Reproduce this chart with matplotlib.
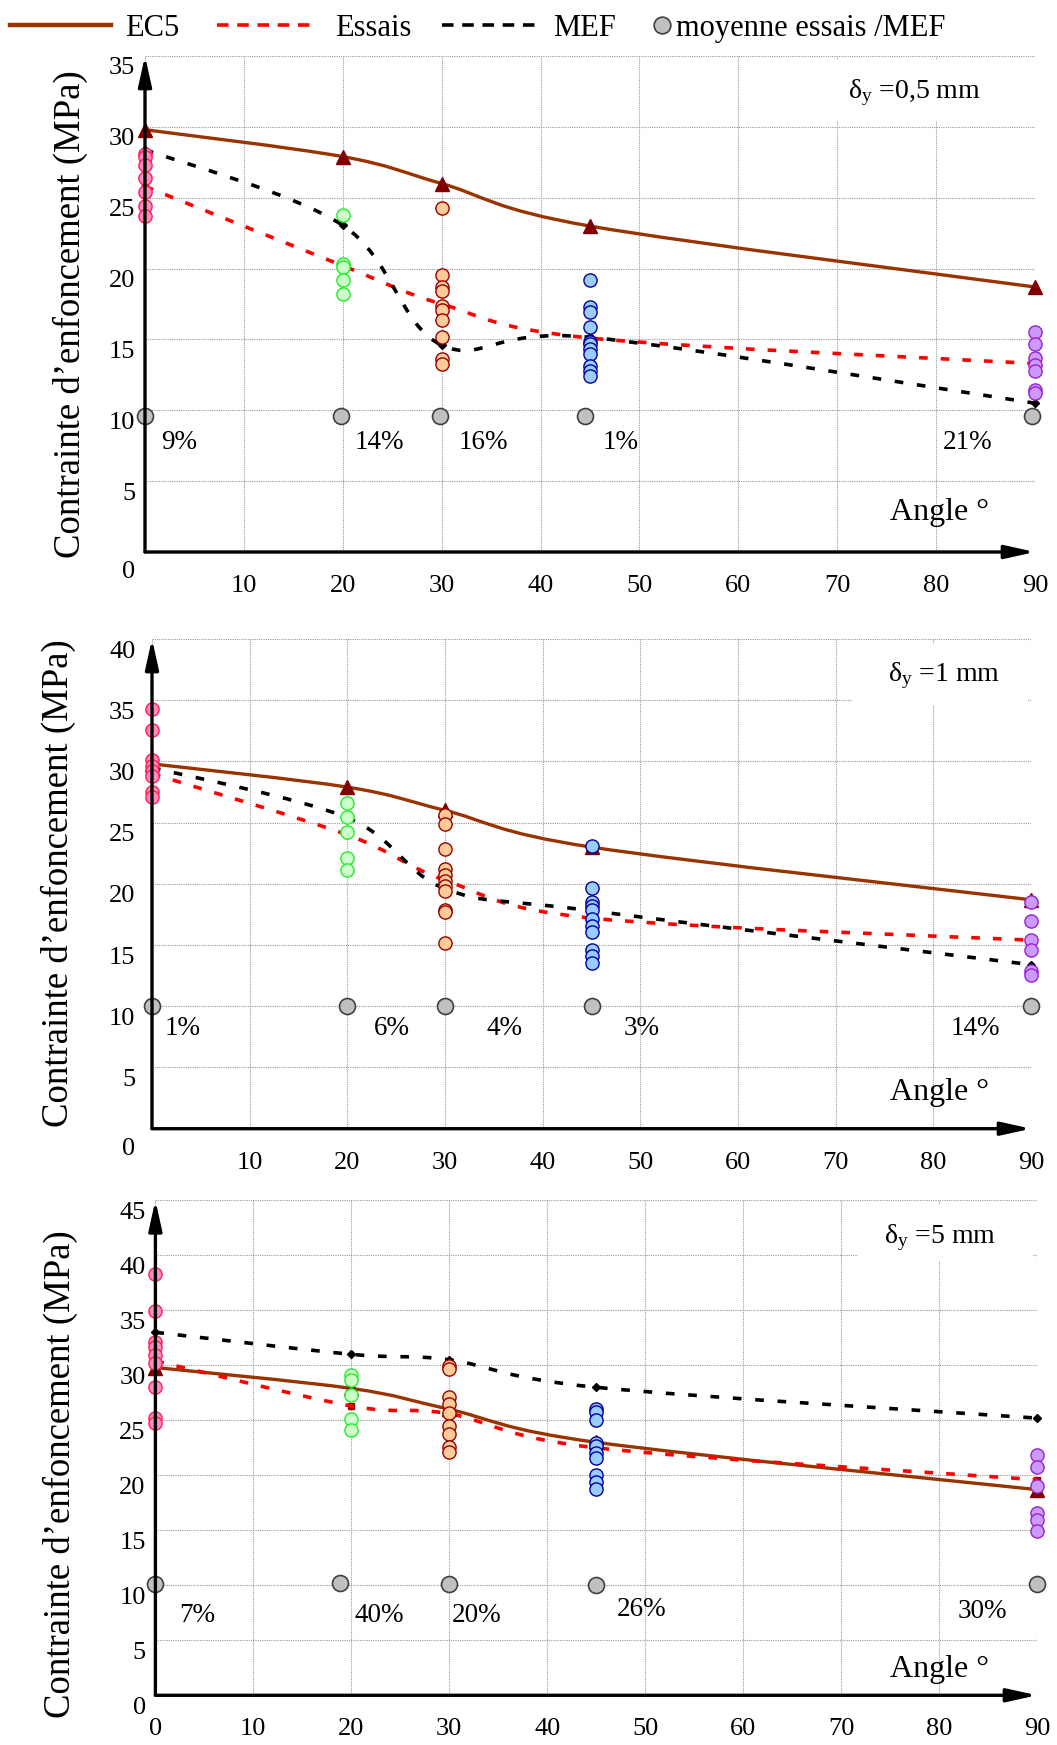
import numpy as np
import matplotlib
matplotlib.use('Agg')
import matplotlib.pyplot as plt
import matplotlib.transforms as mtransforms
from matplotlib.path import Path
from matplotlib.patches import PathPatch, Rectangle
from matplotlib.lines import Line2D

plt.rcParams['font.family'] = ['Liberation Serif', 'DejaVu Serif']
plt.rcParams['mathtext.fontset'] = 'custom'
plt.rcParams['mathtext.rm'] = 'Liberation Serif'
plt.rcParams['mathtext.it'] = 'Liberation Serif:italic'

# ---- data ----
angles = [0, 20, 30, 45, 90]
ec5 = [29.8, 27.9, 26.0, 23.0, 18.7]

essais_05 = [25.8, 20.2, 17.5, 15.1, 13.3]
mef_05 = [28.4, 23.05, 14.6, 15.15, 10.5]
tests_05 = [[28.1, 27.85, 27.3, 26.4, 25.4, 24.45, 23.7],
            [23.8, 20.35, 20.1, 19.2, 18.2],
            [24.25, 19.55, 18.7, 18.45, 17.35, 17.05, 16.4, 15.15, 13.6, 13.3],
            [19.2, 17.3, 16.95, 15.9, 14.8, 14.65, 14.3, 13.95, 13.1, 12.8, 12.45],
            [15.55, 14.65, 13.7, 13.2, 12.8, 11.45, 11.2]]
moy_x_05 = [0, 19.8, 29.8, 44.5, 89.7]
moy_y_05 = [9.6, 9.6, 9.6, 9.6, 9.6]
pct_05 = ['9%', '14%', '16%', '1%', '21%']

essais_1 = [29.0, 24.0, 20.3, 17.2, 15.4]
mef_1 = [29.5, 25.4, 19.6, 17.8, 13.4]
tests_1 = [[34.3, 32.6, 30.1, 29.6, 29.2, 28.8, 27.5, 27.1],
           [26.6, 25.45, 24.2, 22.1, 21.15],
           [25.6, 24.9, 22.85, 21.2, 20.7, 20.2, 19.8, 19.4, 17.9, 17.7, 15.2],
           [23.1, 19.7, 18.55, 18.15, 17.9, 17.1, 16.55, 16.05, 14.6, 14.1, 13.55],
           [18.55, 17.0, 15.4, 14.6, 12.9, 12.55]]
moy_x_1 = [0, 20, 30, 45, 90]
moy_y_1 = [10, 10, 10, 10, 10]
pct_1 = ['1%', '6%', '4%', '3%', '14%']

essais_5 = [30.4, 26.3, 25.6, 22.5, 19.6]
mef_5 = [33.0, 31.0, 30.5, 28.0, 25.2]
tests_5 = [[38.3, 34.95, 32.1, 31.7, 30.9, 30.2, 28.0, 25.2, 24.8],
           [29.1, 28.7, 27.3, 25.1, 24.1],
           [29.95, 29.65, 27.1, 26.5, 25.65, 24.5, 23.8, 22.6, 22.15],
           [26.0, 25.8, 25.0, 22.9, 22.65, 22.0, 21.55, 20.0, 19.4, 18.75],
           [21.85, 20.75, 19.0, 16.6, 15.95, 14.9]]
moy_x_5 = [0, 18.8, 30, 45, 90]
moy_y_5 = [10.1, 10.25, 10.1, 10.05, 10.1]
pct_5 = ['7%', '40%', '20%', '26%', '30%']

deltas = ['0,5', '1', '5']
ymaxs = [35, 40, 45]

fills = ['#ff8cc6', '#ccffcc', '#ffcc99', '#99ccff', '#cc99ff']
edges = ['#ff2050', '#22ee22', '#990000', '#000099', '#9922cc']

W, H = 1057, 1745


def smooth(xs, ys):
    # smoothed line like the spreadsheet "smooth line" option (cubic bezier)
    pts = np.column_stack([xs, ys]).astype(float)
    n = len(pts)
    verts = [pts[0]]
    codes = [Path.MOVETO]
    for i in range(n - 1):
        p0 = pts[max(i - 1, 0)]
        p1 = pts[i]
        p2 = pts[i + 1]
        p3 = pts[min(i + 2, n - 1)]
        verts += [p1 + (p2 - p0) / 6, p2 - (p3 - p1) / 6, p2]
        codes += [Path.CURVE4] * 3
    return Path(verts, codes)


fig = plt.figure(figsize=(W / 100, H / 100), dpi=100)

# pixel layout of each panel: (x0, y0, x1, y1)
boxes = [(145, 56, 1035, 552), (152, 639, 1031, 1128.7), (155.4, 1200.3, 1037, 1695.3)]
ylab_pos = [(70, 314), (58, 883), (60, 1474)]
angle_base = [520, 1100, 1677]
delta_pos = [(914, 93), (944, 676), (940, 1238)]
white_box = [(830, 60, 1032, 121), (852, 644, 1028, 705), (858, 1205, 1033, 1261)]
pct_x = [[1.6, 21.2, 31.7, 46.3, 80.7], [1.3, 22.7, 34.2, 48.3, 81.8], [2.4, 20.3, 30.3, 47.1, 81.9]]
pct_y = [[7.75] * 5, [8.2] * 5, [7.3, 7.3, 7.3, 7.8, 7.6]]
ypads = [7, 12, 7]

essais_all = [essais_05, essais_1, essais_5]
mef_all = [mef_05, mef_1, mef_5]
tests_all = [tests_05, tests_1, tests_5]
moy_x_all = [moy_x_05, moy_x_1, moy_x_5]
moy_y_all = [moy_y_05, moy_y_1, moy_y_5]
pct_all = [pct_05, pct_1, pct_5]

for k in range(3):
    x0, y0, x1, y1 = boxes[k]
    ax = fig.add_axes([x0 / W, 1 - y1 / H, (x1 - x0) / W, (y1 - y0) / H])
    ax.set_xlim(0, 90)
    ax.set_ylim(0, ymaxs[k])
    for s in ax.spines.values():
        s.set_visible(False)
    ax.set_axisbelow(True)
    ax.grid(True, color='#9a9a9a', linestyle=(0, (1, 1)), linewidth=0.8)

    xt = list(range(0, 91, 10))
    ax.set_xticks(xt)
    ax.set_xticklabels(['' if (v == 0 and k < 2) else str(v) for v in xt])
    yt = list(range(0, ymaxs[k] + 1, 5))
    ax.set_yticks(yt)
    ax.set_yticklabels([str(v) for v in yt])
    ax.tick_params(axis='both', length=0, labelsize=19)
    ax.tick_params(axis='x', pad=16.5)
    ax.tick_params(axis='y', pad=ypads[k])
    for lab in ax.get_yticklabels():
        dy = 0.10
        if lab.get_text() == '0' and k < 2:
            dy = 0.18
        lab.set_transform(lab.get_transform() + mtransforms.ScaledTranslation(0, -dy, fig.dpi_scale_trans))

    # axes with arrows
    arr = dict(arrowstyle='-|>,head_length=0.9,head_width=0.2', color='black', lw=2.4,
               shrinkA=0, shrinkB=0, mutation_scale=20)
    ax.annotate('', xy=(0, 1), xytext=(0, 0), xycoords='axes fraction', arrowprops=arr,
                annotation_clip=False, zorder=6)
    ax.annotate('', xy=(1, 0), xytext=(0, 0), xycoords='axes fraction', arrowprops=arr,
                annotation_clip=False, zorder=6)

    # white box behind the delta label
    bx0, by0, bx1, by1 = white_box[k]
    ax.add_patch(Rectangle((bx0 / W, 1 - by1 / H), (bx1 - bx0) / W, (by1 - by0) / H,
                           transform=fig.transFigure, facecolor='white', edgecolor='none', zorder=1))
    ax.text(delta_pos[k][0] / W, 1 - delta_pos[k][1] / H,
            r'$\mathrm{\delta_y}$ =' + deltas[k] + ' mm', transform=fig.transFigure,
            fontsize=20, ha='center', va='center', zorder=5)

    # lines
    ax.add_patch(PathPatch(smooth(angles, ec5), fill=False, edgecolor='#993300', lw=2.4,
                           zorder=2, clip_on=False))
    ax.plot(angles, ec5, linestyle='none', marker='^', markersize=10, color='#800000',
            zorder=2.5, clip_on=False)
    ax.add_patch(PathPatch(smooth(angles, essais_all[k]), fill=False, edgecolor='#ff0000', lw=2.6,
                           linestyle=(0, (2.4, 3.6)), capstyle='butt', zorder=2.2, clip_on=False))
    ax.plot(angles, essais_all[k], linestyle='none', marker='s', markersize=5, color='#990000',
            zorder=2.1, clip_on=False)
    ax.add_patch(PathPatch(smooth(angles, mef_all[k]), fill=False, edgecolor='black', lw=2.6,
                           linestyle=(0, (2.4, 3.8)), capstyle='butt', zorder=2.3, clip_on=False))
    ax.plot(angles, mef_all[k], linestyle='none', marker='D', markersize=4, color='black',
            zorder=2.3, clip_on=False)

    # individual tests
    for j, a in enumerate(angles):
        vals = tests_all[k][j]
        ax.plot([a] * len(vals), vals, linestyle='none', marker='o', markersize=9.5,
                markerfacecolor=fills[j], markeredgecolor=edges[j], markeredgewidth=1.0,
                zorder=3, clip_on=False)

    # mean ratio markers + percentages
    ax.plot(moy_x_all[k], moy_y_all[k], linestyle='none', marker='o', markersize=11.5,
            markerfacecolor='#c0c0c0', markeredgecolor='#404040', markeredgewidth=1.2,
            zorder=3, clip_on=False)
    for j in range(5):
        ax.text(pct_x[k][j], pct_y[k][j], pct_all[k][j], fontsize=19.5, ha='left', va='center',
                zorder=4)

    ax.text(890 / W, 1 - angle_base[k] / H, 'Angle °', transform=fig.transFigure,
            fontsize=23, ha='left', va='baseline', zorder=4)
    ax.text(ylab_pos[k][0] / W, 1 - ylab_pos[k][1] / H, 'Contrainte d’enfoncement (MPa)',
            transform=fig.transFigure, rotation=90, fontsize=26.5, ha='center', va='center')

# legend at the top
ly = 1 - 25 / H
tb = 1 - 36 / H
fig.add_artist(Line2D([10 / W, 111 / W], [ly, ly], color='#993300', lw=3.2))
fig.text(125 / W, tb, 'EC5', fontsize=22, va='baseline')
fig.add_artist(Line2D([217 / W, 317 / W], [ly, ly], color='#ff0000', lw=2.6,
                      linestyle=(0, (3.2, 2.4))))
fig.text(335 / W, tb, 'Essais', fontsize=22, va='baseline')
fig.add_artist(Line2D([442 / W, 539 / W], [ly, ly], color='black', lw=2.6,
                      linestyle=(0, (3.2, 2.4))))
fig.text(553 / W, tb, 'MEF', fontsize=22, va='baseline')
fig.add_artist(Line2D([662 / W], [ly], linestyle='none', marker='o', markersize=12,
                      markerfacecolor='#c0c0c0', markeredgecolor='#404040', markeredgewidth=1.2))
fig.text(676 / W, tb, 'moyenne essais /MEF', fontsize=22, va='baseline')

fig.savefig('out.png', dpi=100)
